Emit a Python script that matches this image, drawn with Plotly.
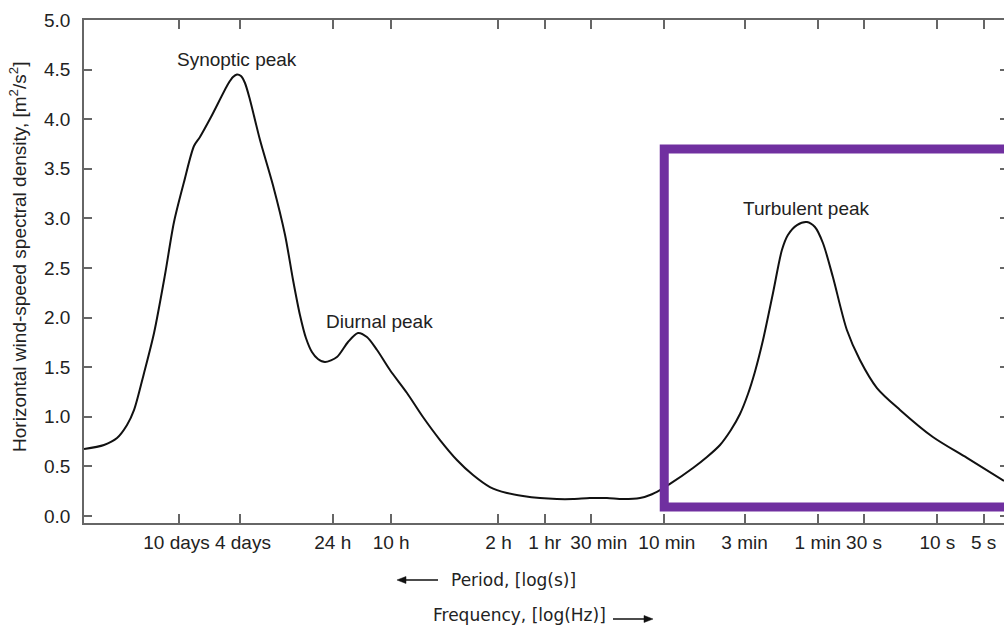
import numpy as np
import plotly.graph_objects as go

# ---- data ----
# log10 of frequency in Hz along the curve
log10_freq_hz = [
    -6.556, -6.426, -6.341, -6.276, -6.230, -6.165, -6.100, -6.029, -5.970, -5.905,
    -5.840, -5.801, -5.729, -5.618, -5.586, -5.560, -5.534, -5.508, -5.475, -5.410,
    -5.326, -5.247, -5.195, -5.150, -5.111, -5.072, -5.033, -4.987, -4.909, -4.837,
    -4.772, -4.714, -4.648, -4.564, -4.453, -4.349, -4.238, -4.128, -4.023, -3.913,
    -3.802, -3.698, -3.587, -3.477, -3.372, -3.262, -3.151, -3.047, -2.936, -2.871,
    -2.806, -2.741, -2.591, -2.500, -2.415, -2.344, -2.285, -2.233, -2.188, -2.135,
    -2.070, -2.012, -1.973, -1.914, -1.849, -1.797, -1.745, -1.680, -1.589, -1.504,
    -1.393, -1.243, -1.029, -0.807, -0.566,
]
# horizontal wind-speed spectral density [m^2/s^2]
density = [
    0.675, 0.716, 0.786, 0.917, 1.069, 1.442, 1.845, 2.429, 2.964, 3.367,
    3.730, 3.821, 4.022, 4.355, 4.425, 4.451, 4.435, 4.365, 4.194, 3.790,
    3.337, 2.833, 2.379, 2.026, 1.794, 1.653, 1.583, 1.552, 1.603, 1.754,
    1.845, 1.804, 1.673, 1.472, 1.240, 0.998, 0.766, 0.565, 0.413, 0.292,
    0.232, 0.202, 0.181, 0.171, 0.171, 0.181, 0.181, 0.171, 0.181, 0.212,
    0.262, 0.323, 0.484, 0.595, 0.716, 0.867, 1.028, 1.230, 1.452, 1.774,
    2.248, 2.681, 2.833, 2.933, 2.964, 2.913, 2.752, 2.409, 1.875, 1.573,
    1.290, 1.069, 0.796, 0.585, 0.353,
]

tick_period_s = [864000, 345600, 86400, 36000, 7200, 3600, 1800, 600, 180, 60, 30, 10, 5]
tick_labels = ["10 days\u00a0", "\u00a04 days", "24 h", "10 h", "2 h", "1 hr",
               "\u00a0\u00a0\u00a030 min", "\u00a010 min", "3 min", "1 min", "30 s", "10 s", "5 s"]
y_tick_values = [0.0, 0.5, 1.0, 1.5, 2.0, 2.5, 3.0, 3.5, 4.0, 4.5, 5.0]

peak_labels = ["Synoptic peak", "Diurnal peak", "Turbulent peak"]
peak_label_log10_freq = [-5.563, -4.635, -1.855]
peak_label_y = [4.60, 1.96, 3.10]

freq = 10 ** np.array(log10_freq_hz)
tick_freq = [1.0 / p for p in tick_period_s]

AXIS = "#666666"
TXT = "#222222"
FONT = "Liberation Sans, Arial, sans-serif"

fig = go.Figure()
fig.add_trace(go.Scatter(
    x=freq, y=density, mode="lines",
    line=dict(color="#111111", width=2, shape="spline", smoothing=0.8),
    showlegend=False, hoverinfo="x+y",
))
# invisible trace to carry the right-hand tick axis
fig.add_trace(go.Scatter(
    x=freq, y=density, yaxis="y2", mode="lines",
    line=dict(color="rgba(0,0,0,0)", width=0), showlegend=False, hoverinfo="skip",
))

Y_RANGE = [-0.0706, 5.0]

fig.update_layout(
    width=1004, height=630, autosize=False,
    margin=dict(l=84, r=0, t=20, b=107),
    paper_bgcolor="white", plot_bgcolor="white",
    font=dict(family=FONT, size=19, color=TXT),
    xaxis=dict(
        type="log", range=[-6.556, -0.566],
        tickvals=tick_freq, ticktext=tick_labels, tickangle=0,
        ticks="inside", ticklen=9, tickwidth=1.5, tickcolor=AXIS,
        showline=True, linecolor=AXIS, linewidth=1.5, mirror="ticks",
        showgrid=False, zeroline=False,
        tickfont=dict(family=FONT, size=19, color=TXT),
        ticklabelstandoff=1,
    ),
    yaxis=dict(
        range=Y_RANGE,
        tickvals=y_tick_values, ticktext=[f"{v:.1f}" for v in y_tick_values],
        ticks="inside", ticklen=8, tickwidth=1.5, tickcolor=AXIS,
        showline=True, linecolor=AXIS, linewidth=1.5, mirror=False,
        showgrid=False, zeroline=False,
        tickfont=dict(family=FONT, size=19, color=TXT),
        ticklabelstandoff=8,
    ),
    yaxis2=dict(
        overlaying="y", side="right", anchor="x", range=Y_RANGE,
        tickvals=y_tick_values, showticklabels=False,
        ticks="inside", ticklen=4, tickwidth=1.5, tickcolor=AXIS,
        showline=False, showgrid=False, zeroline=False,
    ),
)

# y-axis title (placed as rotated text to match the reference position)
fig.add_annotation(
    x=-0.0717, y=0.529, xref="paper", yref="paper",
    text="Horizontal wind-speed spectral density, [m<sup>2</sup>/s<sup>2</sup>]",
    textangle=-90, showarrow=False, xanchor="center", yanchor="middle",
    font=dict(family=FONT, size=19, color=TXT),
)

# highlight box around the turbulent region
fig.add_shape(
    type="rect", xref="x", yref="y",
    x0=1.0 / 600, x1=3.0, y0=0.09, y1=3.70,
    line=dict(color="#7030A0", width=9), fillcolor="rgba(0,0,0,0)", layer="above",
)

for txt, lf, yv in zip(peak_labels, peak_label_log10_freq, peak_label_y):
    fig.add_annotation(x=lf, y=yv, xref="x", yref="y", text=txt, showarrow=False,
                       font=dict(family=FONT, size=19, color=TXT),
                       xanchor="center", yanchor="middle")

LBL = "DejaVu Sans, Verdana, sans-serif"
fig.add_annotation(x=0.4668, y=-0.1133, xref="paper", yref="paper",
                   text="Period, [log(s)]", showarrow=False,
                   font=dict(family=LBL, size=17, color=TXT),
                   xanchor="center", yanchor="middle")
fig.add_annotation(x=0.4739, y=-0.1829, xref="paper", yref="paper",
                   text="Frequency, [log(Hz)]", showarrow=False,
                   font=dict(family=LBL, size=17, color=TXT),
                   xanchor="center", yanchor="middle")

# arrows beside the axis descriptions (line + filled head)
ARROW = "#111111"
fig.add_shape(type="line", xref="paper", yref="paper",
              x0=0.3478, x1=0.3848, y0=-0.1133, y1=-0.1133,
              line=dict(color=ARROW, width=1.6))
fig.add_shape(type="path", xref="paper", yref="paper",
              path="M 0.3402 -0.1133 L 0.3500 -0.1064 L 0.3500 -0.1203 Z",
              fillcolor=ARROW, line=dict(color=ARROW, width=0.5))
fig.add_shape(type="line", xref="paper", yref="paper",
              x0=0.5750, x1=0.6100, y0=-0.1909, y1=-0.1909,
              line=dict(color=ARROW, width=1.6))
fig.add_shape(type="path", xref="paper", yref="paper",
              path="M 0.6185 -0.1909 L 0.6087 -0.1839 L 0.6087 -0.1978 Z",
              fillcolor=ARROW, line=dict(color=ARROW, width=0.5))

fig.write_html("out.html")
